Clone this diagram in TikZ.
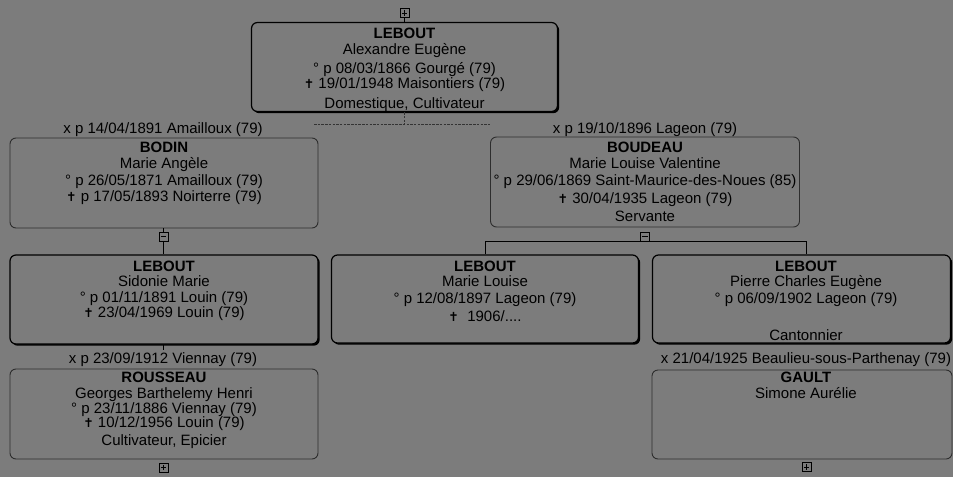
\documentclass[tikz,border=0pt]{standalone}
\usepackage{fontspec}
\setmainfont{Liberation Sans}
\newfontfamily\symfont{DejaVu Sans}
\usetikzlibrary{shadows}
\definecolor{bg}{RGB}{124,124,124}
\definecolor{spouseline}{RGB}{45,45,45}
\newcommand{\dcross}{{\symfont\bfseries\fontsize{12.5}{12}\selectfont ✝}}
\begin{document}
\begin{tikzpicture}[x=1pt,y=-1pt,
  txt/.style={anchor=base, inner sep=0pt, font=\fontsize{15}{15}\selectfont},
  nm/.style={anchor=base, inner sep=0pt, font=\fontsize{15}{15}\selectfont\bfseries},
  mainbox/.style={draw=black, line width=1.2pt, rounded corners=6pt, fill=bg, inner sep=0pt,
    drop shadow={shadow xshift=1.7pt, shadow yshift=-1.7pt, opacity=1, fill=black}},
  spousebox/.style={draw=spouseline, line width=0.9pt, rounded corners=6pt, inner sep=0pt},
  toggle/.style={draw=black, line width=0.8pt, minimum size=9pt, inner sep=0pt},
  plusbox/.style={toggle, path picture={\draw[line width=0.7pt]
      ([xshift=-2.6pt]path picture bounding box.center) -- ([xshift=2.6pt]path picture bounding box.center)
      ([yshift=-2.6pt]path picture bounding box.center) -- ([yshift=2.6pt]path picture bounding box.center);}},
  minusbox/.style={toggle, path picture={\draw[line width=0.9pt]
      ([xshift=-2.6pt]path picture bounding box.center) -- ([xshift=2.6pt]path picture bounding box.center);}},
  link/.style={draw=black, line width=0.8pt},
  dlink/.style={draw=black!80, line width=0.6pt, dash pattern=on 2.5pt off 1.2pt},
]
\fill[bg] (0,0) rectangle (953,477);
\useasboundingbox (0,0) rectangle (953,477);

% ---------- boxes ----------
\node[mainbox, minimum width=306pt, minimum height=89pt] (top) at (404.5,67) {};
\node[spousebox, minimum width=308pt, minimum height=90pt] (bodin) at (164,183) {};
\node[spousebox, minimum width=309pt, minimum height=90pt] (boudeau) at (645,182) {};
\node[mainbox, minimum width=308pt, minimum height=89pt] (sid) at (164,299.5) {};
\node[mainbox, minimum width=307pt, minimum height=88pt] (ml) at (485,299) {};
\node[mainbox, minimum width=298pt, minimum height=88pt] (pc) at (801.5,299) {};
\node[spousebox, minimum width=308pt, minimum height=90pt] (rous) at (164,414) {};
\node[spousebox, minimum width=300pt, minimum height=89pt] (gault) at (802,414.5) {};

% ---------- toggles ----------
\node[plusbox] (ptop) at (404.5,13) {};
\node[minusbox] (mb) at (163.5,236.5) {};
\node[minusbox] (mbo) at (645,236.5) {};
\node[plusbox] (prous) at (163.5,467.5) {};
\node[plusbox] (pgault) at (806.5,467) {};

% ---------- texts ----------
\node[nm]  (t1) at (404.5,38) {LEBOUT};
\node[txt] (t2) at (404.5,54) {Alexandre Eugène};
\node[txt] (t3) at (404.5,73.5) {° p 08/03/1866 Gourgé (79)};
\node[txt] (t4) at (404.5,88) {\dcross\ 19/01/1948 Maisontiers (79)};
\node[txt] (t5) at (404.5,108) {Domestique, Cultivateur};

\node[txt] (m1) at (163,133) {x p 14/04/1891 Amailloux (79)};
\node[nm]  (b1) at (164,152.5) {BODIN};
\node[txt] (b2) at (164,168) {Marie Angèle};
\node[txt] (b3) at (164,185) {° p 26/05/1871 Amailloux (79)};
\node[txt] (b4) at (164,201.5) {\dcross\ p 17/05/1893 Noirterre (79)};

\node[txt] (m2) at (645,133) {x p 19/10/1896 Lageon (79)};
\node[nm]  (d1) at (645,152.5) {BOUDEAU};
\node[txt] (d2) at (645,168) {Marie Louise Valentine};
\node[txt] (d3) at (645,185.5) {° p 29/06/1869 Saint-Maurice-des-Noues (85)};
\node[txt] (d4) at (645,203) {\dcross\ 30/04/1935 Lageon (79)};
\node[txt] (d5) at (645,221.5) {Servante};

\node[nm]  (s1) at (164,271) {LEBOUT};
\node[txt] (s2) at (164,286) {Sidonie Marie};
\node[txt] (s3) at (164,302) {° p 01/11/1891 Louin (79)};
\node[txt] (s4) at (164,317) {\dcross\ 23/04/1969 Louin (79)};

\node[nm]  (l1) at (485,271) {LEBOUT};
\node[txt] (l2) at (485,286) {Marie Louise};
\node[txt] (l3) at (485,303) {° p 12/08/1897 Lageon (79)};
\node[txt] (l4) at (485,321) {\dcross\ \ 1906/....};

\node[nm]  (c1) at (806,271) {LEBOUT};
\node[txt] (c2) at (806,286) {Pierre Charles Eugène};
\node[txt] (c3) at (806,303) {° p 06/09/1902 Lageon (79)};
\node[txt] (c4) at (806,340) {Cantonnier};

\node[txt] (m3) at (163,363) {x p 23/09/1912 Viennay (79)};
\node[nm]  (r1) at (164,382.5) {ROUSSEAU};
\node[txt] (r2) at (164,398) {Georges Barthelemy Henri};
\node[txt] (r3) at (164,413) {° p 23/11/1886 Viennay (79)};
\node[txt] (r4) at (164,427.5) {\dcross\ 10/12/1956 Louin (79)};
\node[txt] (r5) at (164,445) {Cultivateur, Epicier};

\node[txt] (m4) at (806,363) {x 21/04/1925 Beaulieu-sous-Parthenay (79)};
\node[nm]  (g1) at (806,382.5) {GAULT};
\node[txt] (g2) at (806,398) {Simone Aurélie};

% ---------- connectors ----------
\coordinate (jc) at (404.5,124);
\coordinate (jl) at (314,124);
\coordinate (jr) at (490,124);
\draw[link] (ptop) -- (top.north);
\draw[dlink] (top.south) -- (jc);
\draw[dlink] (jl) -- (jr);
\draw[link] (bodin.south -| mb) -- (mb.north);
\draw[link] (mb.south) -- (sid.north -| mb);
\draw[link] (ml.north) |- (mbo.south) -| (pc.north -| pgault);
\draw[link, line width=0.6pt] (sid.south -| mb) -- ++(0,5);
\end{tikzpicture}
\end{document}
